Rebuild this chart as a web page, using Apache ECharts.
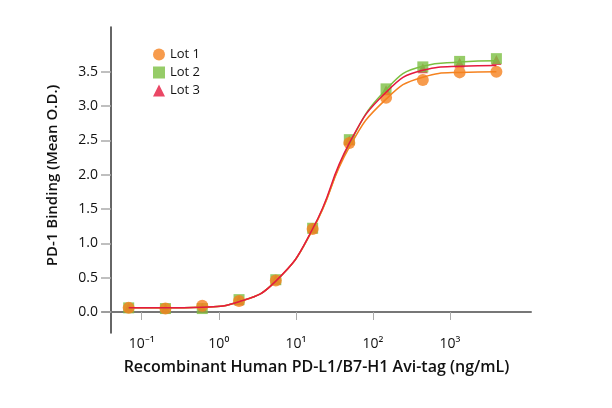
<!DOCTYPE html>
<html>
<head>
    <meta charset="UTF-8">
    <title>PD-1 Binding</title>
    <script src="https://cdn.jsdelivr.net/npm/echarts@6/dist/echarts.min.js"></script>
    <style>
        html, body { margin: 0; padding: 0; background: #fff; }
    </style>
</head>
<body>
<div id="chart" style="width: 612px;height:408px;"></div>

<script type="text/javascript">
    // concentrations (ng/mL), 3-fold dilutions
    var conc = [0.0677, 0.203, 0.61, 1.83, 5.49, 16.5, 49.4, 148, 444, 1333, 4000];

    // measured points
    var lot1 = [0.06, 0.05, 0.09, 0.16, 0.46, 1.21, 2.46, 3.12, 3.38, 3.49, 3.50];
    var lot2 = [0.06, 0.05, 0.05, 0.18, 0.47, 1.22, 2.51, 3.25, 3.57, 3.65, 3.69];
    var lot3 = [0.06, 0.05, 0.06, 0.17, 0.47, 1.22, 2.50, 3.23, 3.55, 3.63, 3.67];

    // fitted curves read at the same concentrations
    var fit1 = [0.06, 0.06, 0.07, 0.15, 0.45, 1.20, 2.40, 3.10, 3.42, 3.49, 3.50];
    var fit2 = [0.06, 0.06, 0.07, 0.15, 0.45, 1.20, 2.44, 3.24, 3.58, 3.64, 3.66];
    var fit3 = [0.06, 0.06, 0.07, 0.15, 0.45, 1.21, 2.46, 3.20, 3.52, 3.58, 3.59];

    var xTickValues = [0.1, 1, 10, 100, 1000];
    var xTickLabels = ['10⁻¹', '10⁰', '10¹', '10²', '10³'];
    var yTickValues = [0, 0.5, 1, 1.5, 2, 2.5, 3, 3.5];

    var colors = ['#F5821F', '#7CBF42', '#E5193F'];

    function pairs(ys) {
        return conc.map(function (c, i) { return [c, ys[i]]; });
    }

    var chart = echarts.init(document.getElementById('chart'));
    var font = 'Open Sans';

    var option = {
        animation: false,
        textStyle: {fontFamily: font},
        grid: {left: 102, right: 81, top: 27, bottom: 75},
        legend: {
            data: [
                {name: 'Lot 1', icon: 'circle'},
                {name: 'Lot 2', icon: 'rect'},
                {name: 'Lot 3', icon: 'triangle'}
            ],
            orient: 'vertical',
            left: 148,
            top: 43,
            itemWidth: 12,
            itemHeight: 12,
            itemGap: 5,
            textStyle: {fontFamily: font, fontSize: 13, color: '#111'}
        },
        xAxis: {
            type: 'log',
            min: 0.0305,
            max: 11246,
            offset: -8,
            name: 'Recombinant Human PD-L1/B7-H1 Avi-tag (ng/mL)',
            nameLocation: 'middle',
            nameGap: 34,
            nameTextStyle: {fontFamily: font, fontSize: 16, fontWeight: 600, color: '#111'},
            axisLine: {lineStyle: {color: '#777', width: 2}},
            axisTick: {
                customValues: xTickValues,
                length: 8,
                lineStyle: {color: '#aaa', width: 1}
            },
            minorTick: {show: false},
            axisLabel: {
                customValues: xTickValues,
                margin: 12,
                fontSize: 14,
                color: '#111',
                formatter: function (v) {
                    var i = xTickValues.findIndex(function (t) { return Math.abs(Math.log10(t) - Math.log10(v)) < 1e-6; });
                    return i >= 0 ? xTickLabels[i] : '';
                }
            },
            splitLine: {show: false}
        },
        yAxis: {
            type: 'value',
            min: -0.306,
            max: 4.151,
            offset: -9,
            name: 'PD-1 Binding (Mean O.D.)',
            nameLocation: 'middle',
            nameGap: 51,
            nameTextStyle: {fontFamily: font, fontSize: 15, fontWeight: 600, color: '#111', padding: [0, 0, 0, 9]},
            axisLine: {show: true, lineStyle: {color: '#333', width: 1.5}},
            axisTick: {
                show: true,
                customValues: yTickValues,
                length: 10,
                lineStyle: {color: '#aaa', width: 1.5}
            },
            axisLabel: {
                customValues: yTickValues,
                margin: 13,
                fontSize: 14,
                color: '#111',
                formatter: function (v) { return v.toFixed(1); }
            },
            splitLine: {show: false}
        },
        series: [
            {name: 'Lot 3', type: 'scatter', symbol: 'triangle', symbolSize: 10,
                itemStyle: {color: colors[2]}, data: pairs(lot3), z: 2},
            {name: 'Lot 2', type: 'scatter', symbol: 'rect', symbolSize: 11,
                itemStyle: {color: colors[1]}, data: pairs(lot2), z: 3},
            {name: 'Lot 1', type: 'scatter', symbol: 'circle', symbolSize: 12,
                itemStyle: {color: colors[0]}, data: pairs(lot1), z: 4},
            {name: 'fit 2', type: 'line', smooth: 0.5, showSymbol: false,
                lineStyle: {color: colors[1], width: 1.5}, data: pairs(fit2), z: 5},
            {name: 'fit 1', type: 'line', smooth: 0.5, showSymbol: false,
                lineStyle: {color: colors[0], width: 1.5}, data: pairs(fit1), z: 6},
            {name: 'fit 3', type: 'line', smooth: 0.5, showSymbol: false,
                lineStyle: {color: colors[2], width: 1.5}, data: pairs(fit3), z: 7}
        ]
    };

    chart.setOption(option);
</script>
</body>
</html>
